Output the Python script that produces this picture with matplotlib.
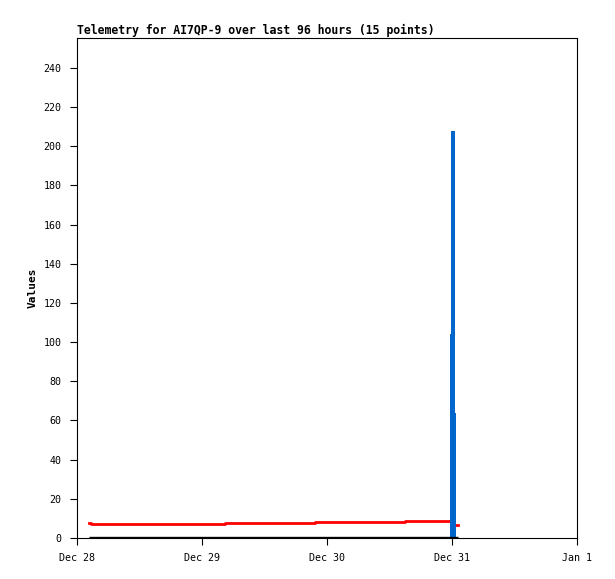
import matplotlib
matplotlib.use("Agg")
import matplotlib.pyplot as plt

# Days since Dec 28 00:00
tick_pos = [0, 1, 2, 3, 4]
tick_labels = ["Dec 28", "Dec 29", "Dec 30", "Dec 31", "Jan 1"]
y_ticks = list(range(0, 241, 20))

red_t = [0.096, 0.108, 0.472, 1.184, 1.904, 2.624, 3.0, 3.048]
red_v = [7.8, 7.1, 7.3, 7.8, 8.3, 8.8, 6.8, 6.8]

black_t = [0.096, 3.048]
black_v = [0, 0]

blue_t = [2.984, 2.992, 3.024, 3.032]
blue_v = [104, 208, 64, 64]

mono = "DejaVu Sans Mono"
fig = plt.figure(figsize=(6.15, 5.79), dpi=100)
ax = fig.add_axes([77/615, 1-538/579, 500/615, 500/579])

ax.fill_between(blue_t, 0, blue_v, step="post", color="#0066cc", linewidth=0, zorder=3)
ax.plot(red_t, red_v, drawstyle="steps-post", color="#ff0000", lw=2.0, zorder=2)
ax.plot(black_t, black_v, color="black", lw=2.4, zorder=4, solid_capstyle="butt")

ax.set_xlim(0, 4)
ax.set_ylim(0, 255.3)
ax.set_xticks(tick_pos)
ax.set_xticklabels(tick_labels, fontfamily=mono, fontsize=7.2)
ax.set_yticks(y_ticks)
ax.set_yticklabels([str(v) for v in y_ticks], fontfamily=mono, fontsize=7.2)
ax.tick_params(direction="out", length=5, width=0.8, pad=6)
for s in ax.spines.values():
    s.set_linewidth(0.8)

ax.set_ylabel("Values", fontfamily=mono, fontweight="bold", fontsize=8, labelpad=4)
ax.set_title("Telemetry for AI7QP-9 over last 96 hours (15 points)", loc="left",
             fontfamily=mono, fontweight="bold", fontsize=8.3, pad=3)

fig.savefig("out.png", dpi=100)
